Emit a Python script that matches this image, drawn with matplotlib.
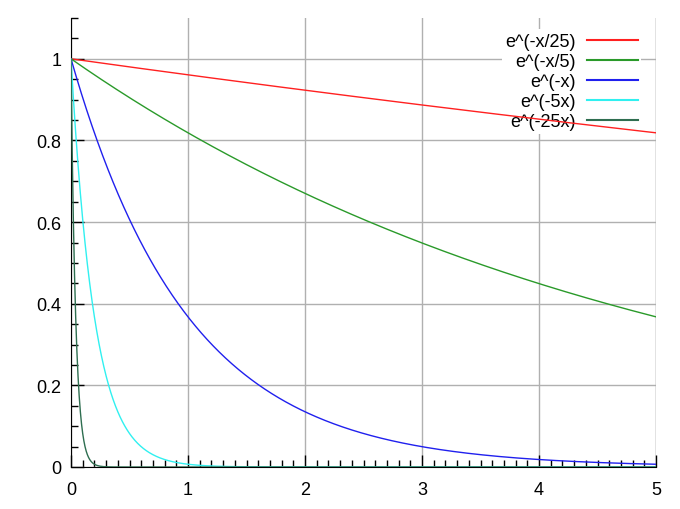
import matplotlib.pyplot as plt
from matplotlib.ticker import MultipleLocator
import numpy as np

plt.rcParams['font.family'] = ['Liberation Sans', 'DejaVu Sans']
plt.rcParams.update({'font.size': 13})

# decay rates named in the legend
rates = [1/25, 1/5, 1, 5, 25]
labels = ["e^(-x/25)", "e^(-x/5)", "e^(-x)", "e^(-5x)", "e^(-25x)"]
colors = ["#ff2020", "#2a9a2a", "#2020ee", "#30f0f0", "#2e6e50"]
x = np.linspace(0, 5, 1001)

fig = plt.figure(figsize=(6.8, 5.1), dpi=100)
ax = fig.add_axes([71/680, 1-468/510, (656-71)/680, (468-19)/510])

for r, lab, c in zip(rates, labels, colors):
    ax.plot(x, np.exp(-r*x), color=c, linewidth=1, label=lab, zorder=3)

ax.set_xlim(0, 5)
ax.set_ylim(0, 1.1)
ax.xaxis.set_major_locator(MultipleLocator(1))
ax.xaxis.set_minor_locator(MultipleLocator(0.1))
ax.set_yticks([0, 0.2, 0.4, 0.6, 0.8, 1])
ax.set_yticklabels(["0", "0.2", "0.4", "0.6", "0.8", "1"])
ax.yaxis.set_minor_locator(MultipleLocator(0.05))
ax.tick_params(which='both', direction='in', color='black', width=1)
ax.tick_params(which='major', length=9)
ax.tick_params(which='minor', length=5)
ax.tick_params(axis='x', pad=10)
ax.tick_params(axis='y', pad=7)
ax.grid(which='major', color='#b0b0b0', linewidth=1, zorder=0.5)
ax.set_axisbelow(True)
for s in ['top', 'right']:
    ax.spines[s].set_visible(False)
ax.axvline(5, color='#b0b0b0', linewidth=1, zorder=0.5)

leg = ax.legend(loc='upper right', bbox_to_anchor=(0.99, 0.995), markerfirst=False,
                frameon=True, edgecolor='none', framealpha=1, fancybox=False,
                handlelength=2.8, handletextpad=0.6, labelspacing=0.17,
                borderpad=0.2, fontsize=13)
leg.set_zorder(2)
for t in leg.get_texts():
    t.set_ha('right')
for h in leg.get_lines():
    h.set_linewidth(1.5)
plt.savefig("out.png")
